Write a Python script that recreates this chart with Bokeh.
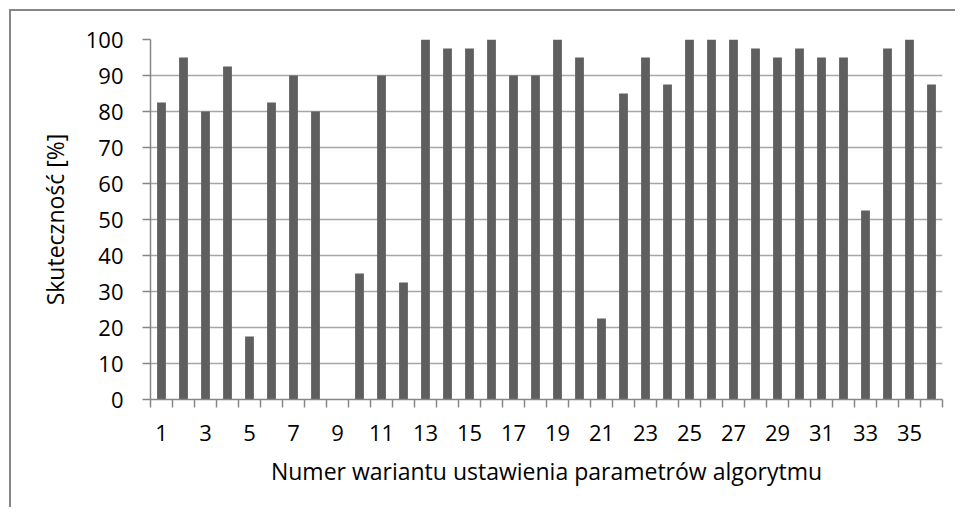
from bokeh.plotting import figure
from bokeh.layouts import column
from bokeh.models import FixedTicker, ColumnDataSource, Range1d
from bokeh.embed import file_html
from bokeh.resources import INLINE

variants = list(range(1, 37))
success = [82.5, 95, 80, 92.5, 17.5, 82.5, 90, 80, 0, 35, 90, 32.5,
           100, 97.5, 97.5, 100, 90, 90, 100, 95, 22.5, 85, 95, 87.5,
           100, 100, 100, 97.5, 95, 97.5, 95, 95, 52.5, 97.5, 100, 87.5]
x_tick_labels = [1, 3, 5, 7, 9, 11, 13, 15, 17, 19, 21, 23, 25, 27, 29, 31, 33, 35]
y_ticks = [0, 10, 20, 30, 40, 50, 60, 70, 80, 90, 100]

FONT = "Open Sans"
GRID = "#a6a6a6"
AXIS = "#868686"

src = ColumnDataSource(dict(x=variants, y=success))

p = figure(width=944, height=496, output_backend="svg", toolbar_location=None,
           x_range=Range1d(0.5, 36.5), y_range=Range1d(0, 100),
           min_border_left=139, min_border_right=13, min_border_top=28,
           min_border_bottom=108)

p.vbar(x="x", top="y", width=0.4, source=src, fill_color="#5f5f5f", line_color=None)

p.outline_line_color = None
p.xgrid.grid_line_color = None
p.ygrid.grid_line_color = GRID
p.ygrid.grid_line_width = 1.5
p.ygrid.ticker = FixedTicker(ticks=y_ticks)

xa = p.xaxis[0]
xa.ticker = FixedTicker(ticks=x_tick_labels, minor_ticks=[v + 0.5 for v in [0] + variants])
xa.major_tick_out = 0
xa.major_tick_in = 0
xa.minor_tick_out = 8
xa.minor_tick_in = 0
xa.minor_tick_line_color = AXIS
xa.minor_tick_line_width = 1.5
xa.axis_line_color = AXIS
xa.axis_line_width = 1.5
xa.major_label_text_font = FONT
xa.major_label_text_font_size = "22px"
xa.major_label_text_color = "#000000"
xa.major_label_standoff = 17
xa.axis_label = "Numer wariantu ustawienia parametrów algorytmu"
xa.axis_label_text_font = FONT
xa.axis_label_text_font_size = "23px"
xa.axis_label_text_font_style = "normal"
xa.axis_label_text_color = "#000000"
xa.axis_label_standoff = 11

ya = p.yaxis[0]
ya.ticker = FixedTicker(ticks=y_ticks)
ya.major_tick_out = 8
ya.major_tick_in = 0
ya.minor_tick_out = 0
ya.minor_tick_in = 0
ya.major_tick_line_color = AXIS
ya.major_tick_line_width = 1.5
ya.axis_line_color = AXIS
ya.axis_line_width = 1.5
ya.major_label_text_font = FONT
ya.major_label_text_font_size = "22px"
ya.major_label_text_color = "#000000"
ya.major_label_standoff = 19
ya.axis_label = "Skuteczność [%]"
ya.axis_label_text_font = FONT
ya.axis_label_text_font_size = "23px"
ya.axis_label_text_font_style = "normal"
ya.axis_label_text_color = "#000000"
ya.axis_label_standoff = 12

layout = column(p, styles={"margin-left": "9px", "margin-top": "9px",
                           "border-top": f"2px solid {AXIS}",
                           "border-left": f"2px solid {AXIS}"})

open("out.html", "w").write(file_html(layout, INLINE))
